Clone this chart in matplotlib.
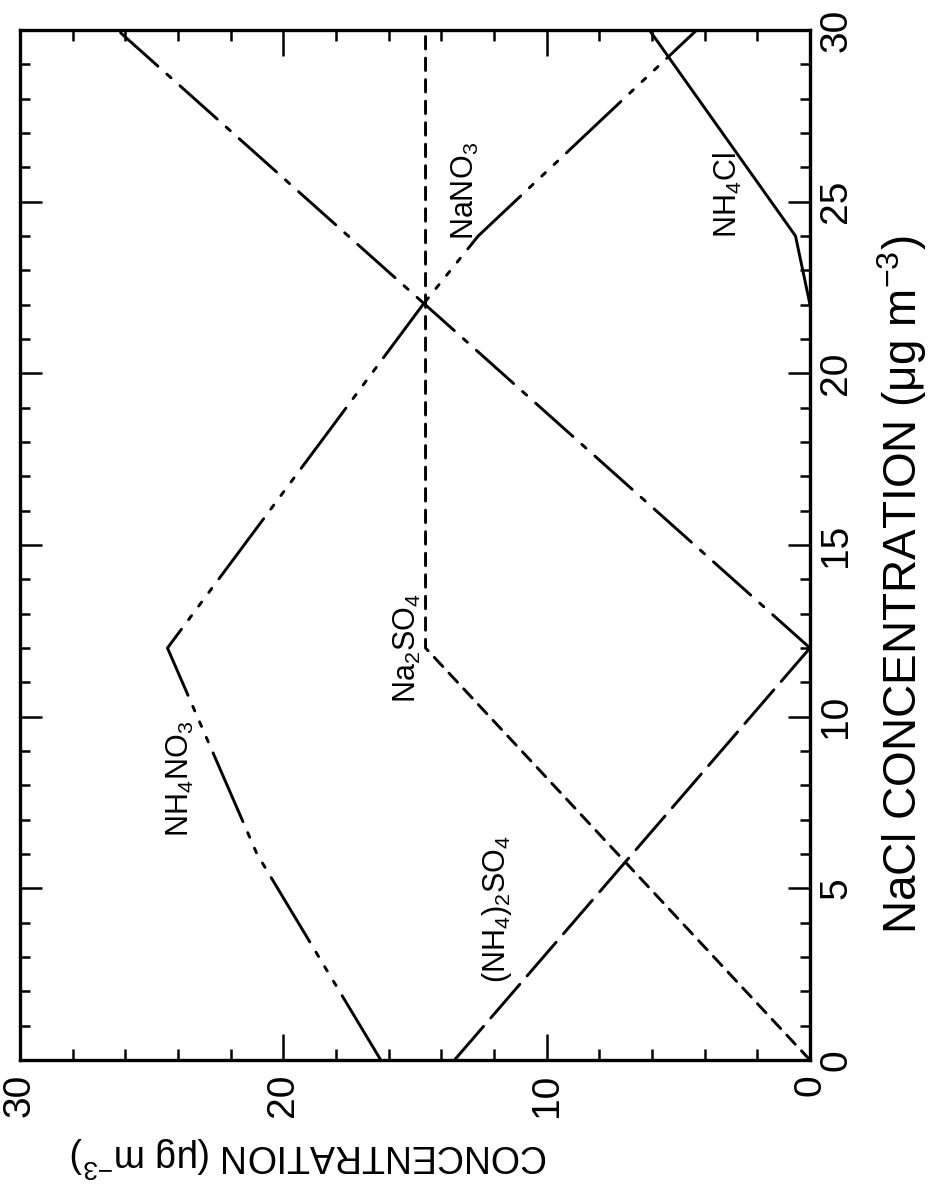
import matplotlib
matplotlib.use("Agg")
import matplotlib.pyplot as plt
from matplotlib.ticker import MultipleLocator

plt.rcParams['font.family'] = ['Liberation Sans', 'DejaVu Sans']
plt.rcParams['mathtext.fontset'] = 'custom'
plt.rcParams['mathtext.rm'] = 'Liberation Sans'
plt.rcParams['mathtext.it'] = 'Liberation Sans:italic'
plt.rcParams['mathtext.default'] = 'regular'
plt.rcParams['lines.scale_dashes'] = False

# NaCl concentration vs. aerosol species concentration (ug m-3)
nacl_nh4no3 = [0, 6, 12, 22, 24, 30]
nh4no3 = [16.3, 21.0, 24.4, 14.7, 12.6, 4.3]
nacl_nano3 = [12, 30]
nano3 = [0, 26.3]
nacl_na2so4 = [0, 12, 30]
na2so4 = [0, 14.6, 14.6]
nacl_nh42so4 = [0, 12]
nh42so4 = [13.5, 0]
nacl_nh4cl = [22, 24, 30]
nh4cl = [0, 0.55, 6.1]

labels = [r'NH$_4$NO$_3$', r'NaNO$_3$', r'Na$_2$SO$_4$', r'(NH$_4$)$_2$SO$_4$', r'NH$_4$Cl']
label_conc = [23.9, 13.1, 15.3, 11.9, 3.1]
label_nacl = [8.2, 25.3, 12.0, 4.4, 25.2]

fig = plt.figure(figsize=(9.33, 11.91), dpi=100)
ax = fig.add_axes([20 / 933, 1 - 1060 / 1191, 790 / 933, 1030 / 1191])

lw = 2.1
# the figure is printed turned 90 degrees: NaCl runs upward, concentration runs leftward
ax.plot(nh4no3, nacl_nh4no3, color='black', lw=lw, dash_capstyle='round',
        dashes=(54, 8.6, 3.6, 8.6, 3.6, 8.6, 3.6, 8.6))
ax.plot(nano3, nacl_nano3, color='black', lw=lw, dash_capstyle='round',
        dashes=(36, 8.6, 4, 8.6))
ax.plot(na2so4, nacl_na2so4, color='black', lw=lw, dash_capstyle='round',
        dashes=(9, 6.5))
ax.plot(nh42so4, nacl_nh42so4, color='black', lw=lw, dash_capstyle='round',
        dashes=(32, 8))
ax.plot(nh4cl, nacl_nh4cl, color='black', lw=lw)

for txt, c, n in zip(labels, label_conc, label_nacl):
    ax.text(c, n, txt, rotation=90, ha='center', va='center', fontsize=22)

ax.set_xlim(30, 0)
ax.set_ylim(0, 30)
ax.xaxis.set_major_locator(MultipleLocator(10))
ax.xaxis.set_minor_locator(MultipleLocator(2))
ax.yaxis.set_major_locator(MultipleLocator(5))
ax.yaxis.set_minor_locator(MultipleLocator(1))
ax.tick_params(axis='both', which='both', direction='in', top=True, bottom=True,
               left=True, right=True, labelleft=False, labelright=True, width=1.8)
ax.tick_params(axis='x', which='major', length=19, pad=10, labelsize=28, labelrotation=90)
ax.tick_params(axis='x', which='minor', length=8)
ax.tick_params(axis='y', which='major', length=16, pad=6, labelsize=28, labelrotation=90)
ax.tick_params(axis='y', which='minor', length=7)
for lab in ax.get_yticklabels():
    lab.set_va('center')
for s in ax.spines.values():
    s.set_linewidth(2.4)

fig.text(70 / 933, 1 - 1157 / 1191, r'CONCENTRATION ($\mu$g m$^{-3}$)', rotation=180,
         ha='left', va='center', fontsize=27)
fig.text(902 / 933, 1 - 585 / 1191, r'NaCl CONCENTRATION ($\mu$g m$^{-3}$)', rotation=90,
         ha='center', va='center', fontsize=33)

fig.savefig('out.png', dpi=100)
